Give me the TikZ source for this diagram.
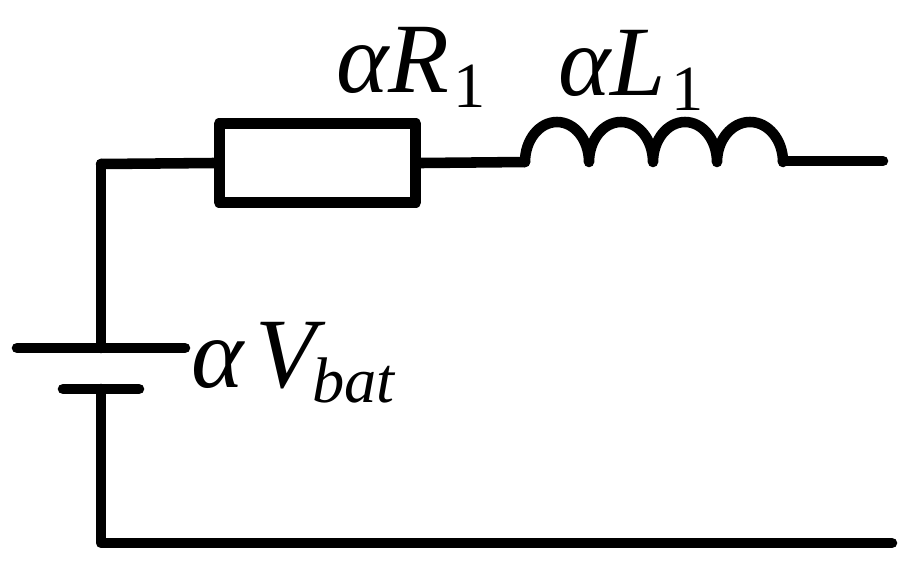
\documentclass[tikz,border=0pt]{standalone}
\usepackage{fontspec}
\setmainfont{Liberation Serif}
\usetikzlibrary{positioning}
\tikzset{
  wire/.style={line width=9pt, line cap=round, line join=round, black},
  resistorbox/.style={rectangle, draw=black, line width=9.4pt, line join=round, fill=white, minimum width=5.895cm, minimum height=2.37cm, inner sep=0pt},
  labeltext/.style={inner sep=0pt, font=\fontsize{85}{85}\selectfont\itshape, anchor=base west},
  subtext/.style={inner sep=0pt, font=\fontsize{55}{55}\selectfont, anchor=base west}
}
\begin{document}
\begin{tikzpicture}[x=0.03cm, y=-0.03cm]
  \useasboundingbox (0,0) rectangle (920,579);

  % top branch
  \node[resistorbox] (res) at (317.5,163) {};
  \coordinate (corner) at (101,164);
  \coordinate (coilin) at (525,162);
  \coordinate (coilout) at (783,161);
  \coordinate (topend) at (883,161);
  \draw[wire] (res.west) -- (corner);
  \draw[wire] (res.east) -- (coilin);
  \draw[wire] (coilin) arc[start angle=180, end angle=0, x radius=32, y radius=-40]
    arc[start angle=180, end angle=0, x radius=32, y radius=-40]
    arc[start angle=180, end angle=0, x radius=32, y radius=-40]
    arc[start angle=180, end angle=0, x radius=33, y radius=-40] -- (coilout);
  \draw[wire] (coilout) -- (topend);

  % battery
  \coordinate (platelong1) at (17,348);
  \coordinate (platelong2) at (185,348);
  \coordinate (plateshort1) at (63,389);
  \coordinate (plateshort2) at (139,389);
  \coordinate (batplus) at (101,348);
  \coordinate (batminus) at (101,389);
  \coordinate (bottomleft) at (101,543);
  \coordinate (bottomend) at (892,543);
  \draw[wire] (platelong1) -- (platelong2);
  \draw[wire] (plateshort1) -- (plateshort2);
  \draw[wire] (corner) -- (batplus);
  \draw[wire] (batminus) -- (bottomleft) -- (bottomend);

  % labels
  \node[labeltext] (labr) at (336,92) {αR};
  \node[subtext] (labrsub) at (453,107) {1};
  \node[labeltext] (labl) at (558,95) {αL};
  \node[subtext] (lablsub) at (671,110) {1};
  \node[labeltext] (labv) at (191,387) {α\kern10pt V};
  \node[subtext, font=\fontsize{55}{55}\selectfont\itshape] (labvsub) at (312,402) {bat};
\end{tikzpicture}
\end{document}
